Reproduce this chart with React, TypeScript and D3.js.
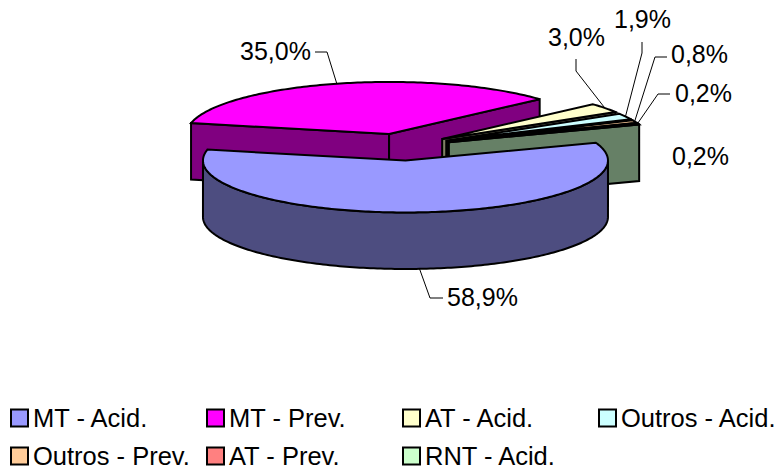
import React from "react";
import * as d3 from "d3";

const WIDTH = 775;
const HEIGHT = 469;

// Share of each category, in percent, in drawing order around the pie.
const categories = ["MT - Acid.", "MT - Prev.", "AT - Acid.", "Outros - Acid.", "Outros - Prev.", "AT - Prev.", "RNT - Acid."];
const shares = [58.9, 35.0, 3.0, 1.9, 0.8, 0.2, 0.2];
const topColors = ["#9999FF", "#FF00FF", "#FFFFCC", "#CCFFFF", "#FFCC99", "#FF8080", "#CCFFCC"];
const sideColors = ["#4D4D80", "#800080", "#808066", "#668080", "#80664D", "#804040", "#668066"];

// Tilted pie geometry: ellipse radii, wall height, and how far slices are pulled out.
const PIE_X = 402;
const PIE_Y = 147;
const RX = 202.5;
const RY = 52;
const DEPTH = 56.5;
const EXPLODE_X = 50;
const EXPLODE_Y = 13.5;
const START_DEG = 70;

const LABEL_FONT = "'Liberation Sans', Arial, sans-serif";
const rad = Math.PI / 180;

// Label placement and leader elbows, one entry per slice.
const labelX = [447, 240, 548, 614, 671, 675, 672];
const labelY = [306, 60, 46, 28, 63, 102, 165];
const leaderElbows: [number, number][][] = [
  [[443, 298], [430, 298]],
  [[315, 52], [327, 52]],
  [[576, 59], [576, 71]],
  [[642, 42], [642, 53]],
  [[667, 57], [655, 57]],
  [[670, 94], [658, 94]],
  [],
];

// Legend grid.
const legendColumnX = [11, 207, 403, 599];
const legendRowY = [409.5, 447.5];
const SWATCH = 17;

const slices = d3
  .pie<number>()
  .sort(null)
  .value((d) => d)
  .startAngle(START_DEG * rad)
  .endAngle((START_DEG + 360) * rad)(shares);

type Pt = [number, number];
const toPath = d3.line<Pt>();

export default function App() {
  const drawn = slices.map((s, i) => {
    const mid = (s.startAngle + s.endAngle) / 2;
    const cx = PIE_X + EXPLODE_X * Math.sin(mid);
    const cy = PIE_Y - EXPLODE_Y * Math.cos(mid);
    const rim = (a: number, drop = 0): Pt => [cx + RX * Math.sin(a), cy - RY * Math.cos(a) + drop];
    const sweep = (a0: number, a1: number, drop = 0): Pt[] => {
      const n = Math.max(2, Math.ceil(Math.abs(a1 - a0) / (1 * rad)));
      return d3.range(n + 1).map((k) => rim(a0 + ((a1 - a0) * k) / n, drop));
    };
    const apex: Pt = [cx, cy];
    const apexLow: Pt = [cx, cy + DEPTH];
    const top = toPath([apex, ...sweep(s.startAngle, s.endAngle)])! + "Z";

    // A cut face shows when its outward normal points to the viewer.
    const faces: string[] = [];
    if (Math.sin(s.startAngle) < 0) faces.push(toPath([apex, rim(s.startAngle), rim(s.startAngle, DEPTH), apexLow])! + "Z");
    if (Math.sin(s.endAngle) > 0) faces.push(toPath([apex, rim(s.endAngle), rim(s.endAngle, DEPTH), apexLow])! + "Z");

    // Outer wall only along the near half of the rim.
    const a0 = Math.max(s.startAngle, 90 * rad);
    const a1 = Math.min(s.endAngle, 270 * rad);
    const wall = a1 > a0 ? toPath([...sweep(a0, a1), ...sweep(a1, a0, DEPTH)])! + "Z" : null;

    const anchor = i === 0 ? rim(mid, DEPTH) : rim(mid);
    return { i, top, faces, wall, anchor };
  });

  // Back slices first, the large front slice last.
  const paintOrder = [1, 2, 3, 4, 5, 6, 0];
  const stroke = { stroke: "#000", strokeWidth: 2, strokeLinejoin: "miter" as const };

  return (
    <svg width={WIDTH} height={HEIGHT} style={{ position: "absolute", left: 0, top: 0, background: "#fff" }}>
      {paintOrder.map((i) => {
        const d = drawn[i];
        return (
          <g key={categories[i]}>
            {d.faces.map((f, k) => (
              <path key={k} d={f} fill={sideColors[i]} {...stroke} />
            ))}
            {d.wall && <path d={d.wall} fill={sideColors[i]} {...stroke} />}
            <path d={d.top} fill={topColors[i]} {...stroke} />
          </g>
        );
      })}

      {drawn.map((d) =>
        leaderElbows[d.i].length ? (
          <path
            key={d.i}
            d={toPath([...leaderElbows[d.i], d.anchor])!}
            fill="none"
            stroke="#000"
            strokeWidth={1}
          />
        ) : null
      )}

      {shares.map((v, i) => (
        <text key={i} x={labelX[i]} y={labelY[i]} fontFamily={LABEL_FONT} fontSize={25} fill="#000">
          {v.toFixed(1).replace(".", ",")}%
        </text>
      ))}

      {categories.map((c, i) => {
        const x = legendColumnX[i % 4];
        const y = legendRowY[Math.floor(i / 4)];
        return (
          <g key={c}>
            <rect x={x} y={y} width={SWATCH} height={SWATCH} fill={topColors[i]} stroke="#000" strokeWidth={2} />
            <text x={x + 22} y={y + 17} fontFamily={LABEL_FONT} fontSize={25.5} fill="#000">
              {c}
            </text>
          </g>
        );
      })}
    </svg>
  );
}
